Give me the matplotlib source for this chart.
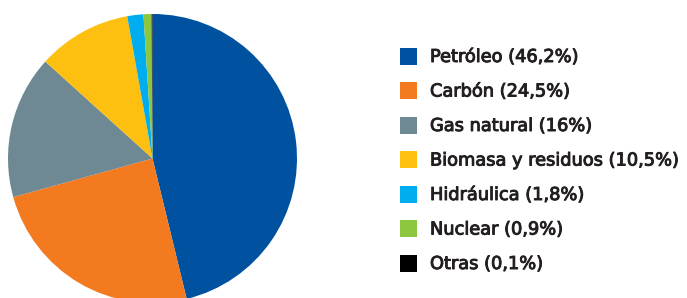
import matplotlib.pyplot as plt
import matplotlib.patheffects as pe
from matplotlib.patches import Rectangle

# energy mix shares (%)
fuentes = ['Petróleo', 'Carbón', 'Gas natural', 'Biomasa y residuos',
           'Hidráulica', 'Nuclear', 'Otras']
valores = [46.2, 24.5, 16, 10.5, 1.8, 0.9, 0.1]
etiquetas = ['46,2%', '24,5%', '16%', '10,5%', '1,8%', '0,9%', '0,1%']
colores = ['#0052A1', '#F47A20', '#6E8993', '#FDC010', '#00AEEF', '#8DC63F', '#000000']

fig = plt.figure(figsize=(6.87, 2.98), dpi=100)
ax = fig.add_axes([0, 0, 1, 1])

# y axis is flipped (pixel coords), so counterclock in data = clockwise on screen
ax.pie(valores, colors=colores, startangle=-90, counterclock=True,
       center=(152.5, 158.5), radius=144.5, frame=True,
       wedgeprops={'linewidth': 0})
ax.set_xlim(0, 687)
ax.set_ylim(298, 0)
ax.set_aspect('equal')
ax.axis('off')

# legend (slight stroke to mimic the medium-weight font)
for i, (f, e, c) in enumerate(zip(fuentes, etiquetas, colores)):
    y = 56 + i * 34.5
    ax.add_patch(Rectangle((400, y - 8.5), 17, 17, color=c, lw=0))
    ax.text(430, y + 1, f'{f} ({e})', va='center', ha='left', fontsize=12.8,
            family='DejaVu Sans', color='#231F20',
            path_effects=[pe.withStroke(linewidth=0.7, foreground='#231F20')])

fig.savefig('out.png', dpi=100)
